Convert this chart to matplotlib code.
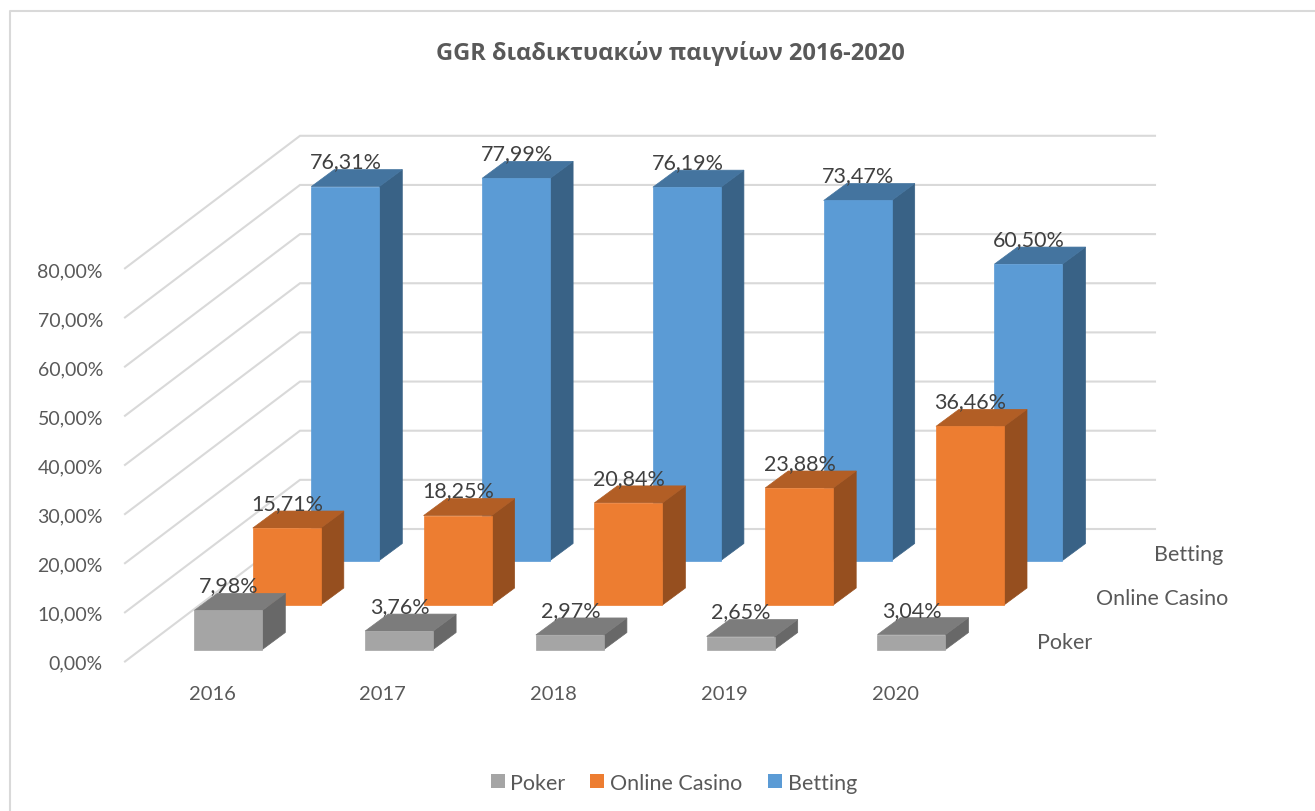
import matplotlib
matplotlib.use("Agg")
import matplotlib.pyplot as plt
from matplotlib.patches import Polygon, Rectangle

plt.rcParams['font.family'] = ['Lato', 'Noto Sans', 'DejaVu Sans']

years = ["2016", "2017", "2018", "2019", "2020"]
series_names = ["Poker", "Online Casino", "Betting"]
poker = [7.98, 3.76, 2.97, 2.65, 3.04]
casino = [15.71, 18.25, 20.84, 23.88, 36.46]
betting = [76.31, 77.99, 76.19, 73.47, 60.50]
y_ticks = [0, 10, 20, 30, 40, 50, 60, 70, 80]
title = "GGR διαδικτυακών παιγνίων 2016-2020"

series_values = [poker, casino, betting]
# front, top, side shades
shades = [("#A5A5A5", "#7C7C7C", "#686868"),
          ("#ED7D31", "#B25E25", "#964F1F"),
          ("#5B9BD5", "#44749F", "#396286")]

TEXT = "#595959"
GRID = "#D9D9D9"
PER_UNIT = 4.915      # px for one percent on the walls
BAR_UNIT = 4.9        # bars sit a bit further forward, so slightly smaller
FRONT0 = (125, 662.5)
BACK0 = (300, 530)
BACK_RIGHT = 1155
BAR_W = 68
DEPTH = (23, -17)
YEAR_STEP = 170.8
ROW_STEP = (58.5, -44.5)
FIRST_BAR = (194.3, 650.5)

fig = plt.figure(figsize=(13.15, 8.12), dpi=100)
ax = fig.add_axes([0, 0, 1, 1])
ax.set_xlim(0, 1315)
ax.set_ylim(812, 0)
ax.axis("off")

# outer chart frame, only left and top show in the picture
ax.plot([10, 10, 1315], [812, 12, 12], color=GRID, lw=1.5, zorder=1)

# floor/wall gridlines
for t in y_ticks:
    h = t * PER_UNIT
    ax.plot([FRONT0[0], BACK0[0], BACK_RIGHT],
            [FRONT0[1] - h, BACK0[1] - h, BACK0[1] - h],
            color=GRID, lw=1.5, zorder=1, solid_joinstyle="miter")
    ax.text(103, 663.5 - t * 4.9, f"{t},00%", ha="right", va="center",
            fontsize=14, color=TEXT)

# bars, back row first
for row in [2, 1, 0]:
    front, top, side = shades[row]
    for i, v in enumerate(series_values[row]):
        x0 = FIRST_BAR[0] + i * YEAR_STEP + row * ROW_STEP[0]
        y0 = FIRST_BAR[1] + row * ROW_STEP[1]
        y1 = y0 - v * BAR_UNIT
        x1 = x0 + BAR_W
        dx, dy = DEPTH
        ax.add_patch(Polygon([(x1, y0), (x1 + dx, y0 + dy), (x1 + dx, y1 + dy), (x1, y1)],
                             fc=side, ec=side, lw=0.5, zorder=3 + (2 - row)))
        ax.add_patch(Polygon([(x0, y1), (x1, y1), (x1 + dx, y1 + dy), (x0 + dx, y1 + dy)],
                             fc=top, ec=top, lw=0.5, zorder=3 + (2 - row)))
        ax.add_patch(Rectangle((x0, y1), BAR_W, y0 - y1, fc=front, ec=front, lw=0.5,
                               zorder=3 + (2 - row)))

# value labels over everything
for row, vals in enumerate(series_values):
    for i, v in enumerate(vals):
        x0 = FIRST_BAR[0] + i * YEAR_STEP + row * ROW_STEP[0]
        y0 = FIRST_BAR[1] + row * ROW_STEP[1]
        ax.text(x0 + BAR_W / 2 + 0.5, y0 - v * BAR_UNIT - 25, f"{v:.2f}%".replace(".", ","),
                ha="center", va="center", fontsize=15.5, color="#404040", zorder=10)

for i, y in enumerate(years):
    ax.text(212 + i * YEAR_STEP, 695, y, ha="center", va="center", fontsize=14.5, color=TEXT)

for name, x, y in zip(series_names, [1037, 1096, 1154], [643, 599, 555]):
    ax.text(x, y, name, ha="left", va="center", fontsize=15.5, color=TEXT)

ax.text(670, 53, title, ha="center", va="center", fontsize=17, fontweight="bold",
        family=["Open Sans", "Noto Sans"], color=TEXT)

# legend
for name, sx, tx, c in zip(series_names, [491, 590, 768], [510, 610, 788], [s[0] for s in shades]):
    ax.add_patch(Rectangle((sx, 775), 14, 14, fc=c, ec="none"))
    ax.text(tx, 784, name, ha="left", va="center", fontsize=15.5, color=TEXT)

fig.savefig("out.png", dpi=100)
